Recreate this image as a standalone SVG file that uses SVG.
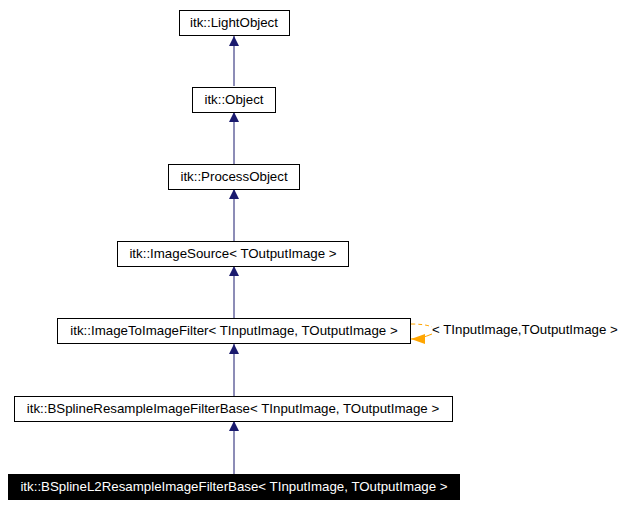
<svg xmlns="http://www.w3.org/2000/svg" width="630" height="506" viewBox="0 0 630 506">
<style>
.n rect{fill:#fff;stroke:#000;stroke-width:1}
text{font-family:"Liberation Sans",Arial,sans-serif;font-size:13.3px;fill:#000}
.e{stroke:#1a1a6e;stroke-width:1;fill:none}
</style>
<defs>
<marker id="a" markerWidth="10" markerHeight="12" refX="10" refY="6" orient="auto" markerUnits="userSpaceOnUse"><path d="M0,1 L10,6 L0,11 Z" fill="#1a1a6e"/></marker>
<marker id="o" markerWidth="14" markerHeight="12" refX="14" refY="6" orient="auto" markerUnits="userSpaceOnUse"><path d="M0,1 L14,6 L0,11 Z" fill="#ffa500"/></marker>
</defs>
<rect width="630" height="506" fill="#fff"/>
<g id="connectors">
<path class="e" d="M234,86 V36" marker-end="url(#a)"/>
<path class="e" d="M234,164 V112" marker-end="url(#a)"/>
<path class="e" d="M234,241 V189" marker-end="url(#a)"/>
<path class="e" d="M234,318 V266" marker-end="url(#a)"/>
<path class="e" d="M234,396 V344" marker-end="url(#a)"/>
<path class="e" d="M234,474 V421" marker-end="url(#a)"/>
<path d="M411,324 C420,324 428,325 432,327" stroke="#ffa500" stroke-dasharray="4,3" fill="none"/>
<path d="M432,334 C425,337 418,339 411,339" stroke="#ffa500" fill="none" marker-end="url(#o)"/>
<text x="432" y="334">&lt; TInputImage,TOutputImage &gt;</text>
</g>
<g id="n1" class="n"><rect x="179.500" y="10.500" width="110" height="25"/><text x="234" y="27" text-anchor="middle">itk::LightObject</text></g>
<g id="n2" class="n"><rect x="192.500" y="87.500" width="83" height="25"/><text x="234" y="104" text-anchor="middle">itk::Object</text></g>
<g id="n3" class="n"><rect x="168.500" y="164.500" width="131" height="25"/><text x="234" y="181" text-anchor="middle">itk::ProcessObject</text></g>
<g id="n4" class="n"><rect x="117.500" y="241.500" width="231" height="25"/><text x="233" y="258" text-anchor="middle">itk::ImageSource&lt; TOutputImage &gt;</text></g>
<g id="n5" class="n"><rect x="57.500" y="318.500" width="353" height="25"/><text x="234" y="335" text-anchor="middle">itk::ImageToImageFilter&lt; TInputImage, TOutputImage &gt;</text></g>
<g id="n6" class="n"><rect x="14.500" y="396.500" width="438" height="25"/><text x="233" y="413" text-anchor="middle">itk::BSplineResampleImageFilterBase&lt; TInputImage, TOutputImage &gt;</text></g>
<g id="n7"><rect x="8.500" y="474.500" width="451" height="25" fill="#000" stroke="#000"/><text x="234" y="491" text-anchor="middle" style="fill:#fff">itk::BSplineL2ResampleImageFilterBase&lt; TInputImage, TOutputImage &gt;</text></g>
</svg>
